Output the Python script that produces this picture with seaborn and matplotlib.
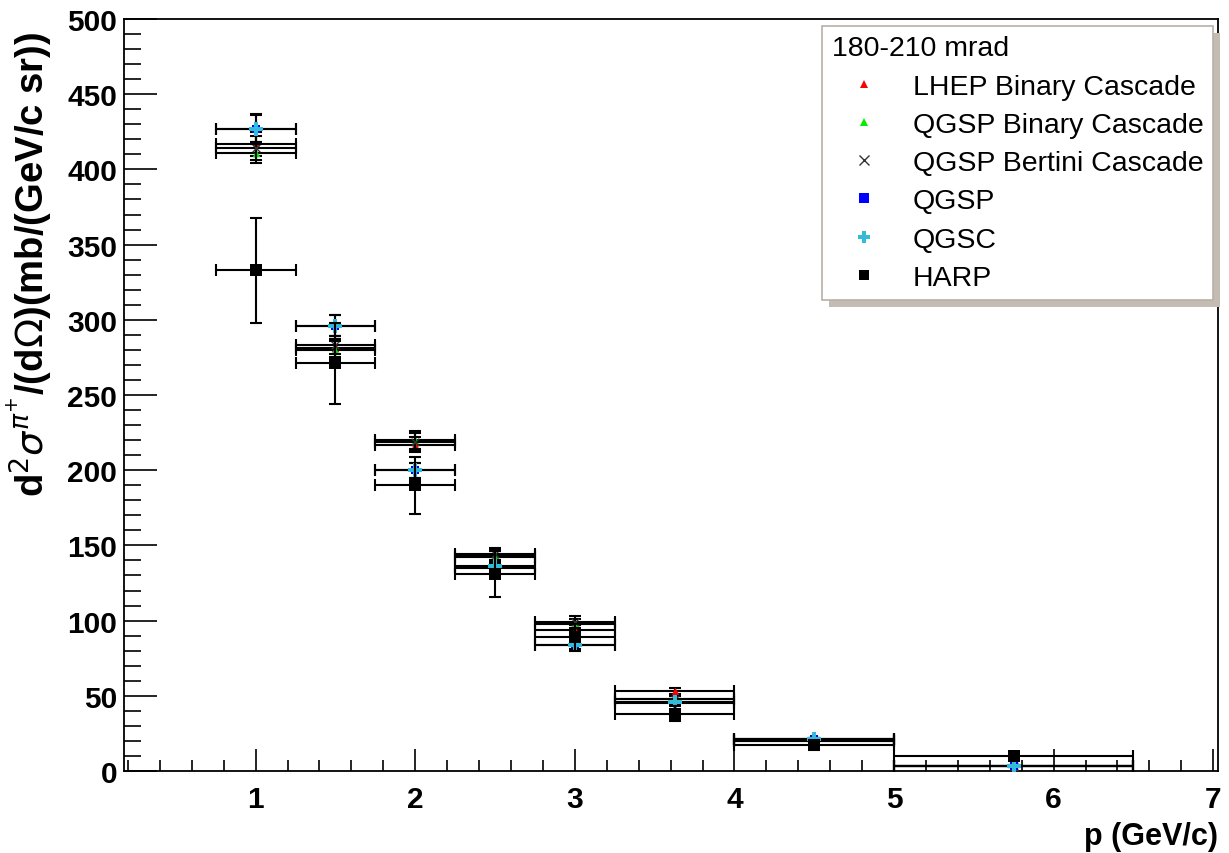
import numpy as np
import pandas as pd
import matplotlib
matplotlib.use('Agg')
import matplotlib.pyplot as plt
import seaborn as sns
from matplotlib.lines import Line2D
from matplotlib.patches import Rectangle
from matplotlib.ticker import MultipleLocator

# Bins in p (GeV/c)
p_center = [1.0, 1.5, 2.0, 2.5, 3.0, 3.625, 4.5, 5.75]
p_halfwidth = [0.25, 0.25, 0.25, 0.25, 0.25, 0.375, 0.5, 0.75]

# Cross sections per model (mb/(GeV/c sr))
lhep_bic = [417, 281, 217, 143, 94, 53, 21, 3.5]
lhep_bic_err = [8, 6, 5, 4, 3, 2, 1, 0.5]
qgsp_bic = [411, 280, 220, 142, 98, 48, 20, 3.5]
qgsp_bic_err = [7, 6, 6, 4, 3, 2, 1, 0.5]
qgsp_bert = [414, 283, 219, 144, 99, 48, 20, 3]
qgsp_bert_err = [8, 6, 6, 4, 4, 2, 1, 0.5]
qgsp = [427, 296, 200, 135, 84, 45, 21, 3]
qgsp_err = [9, 7, 5, 4, 3, 2, 1, 0.5]
qgsc = [427, 296, 200, 136, 84, 46, 21, 3]
qgsc_err = [10, 7, 5, 4, 3, 2, 1, 0.5]
harp = [333, 271, 190, 131, 89, 38, 17, 10]
harp_err = [35, 27, 19, 15, 9, 5, 3, 2]

models = ['LHEP Binary Cascade', 'QGSP Binary Cascade', 'QGSP Bertini Cascade',
          'QGSP', 'QGSC', 'HARP']
values = [lhep_bic, qgsp_bic, qgsp_bert, qgsp, qgsc, harp]
errors = [lhep_bic_err, qgsp_bic_err, qgsp_bert_err, qgsp_err, qgsc_err, harp_err]

style = {
    'LHEP Binary Cascade': dict(color='#ff0000', marker='^', s=30),
    'QGSP Binary Cascade': dict(color='#00ee00', marker='^', s=30),
    'QGSP Bertini Cascade': dict(color='#333333', marker='x', s=30),
    'QGSP': dict(color='#0000ff', marker='s', s=40),
    'QGSC': dict(color='#33bbd8', marker='P', s=110),
    'HARP': dict(color='#000000', marker='s', s=75),
}

rows = []
for m, v, e in zip(models, values, errors):
    for x, dx, y, dy in zip(p_center, p_halfwidth, v, e):
        rows.append(dict(model=m, p=x, dp=dx, sig=y, dsig=dy))
df = pd.DataFrame(rows)

sns.set_style('ticks')
plt.rcParams['font.family'] = ['Liberation Sans', 'DejaVu Sans']
plt.rcParams['text.color'] = 'black'
plt.rcParams['axes.labelcolor'] = 'black'
plt.rcParams['xtick.color'] = 'black'
plt.rcParams['ytick.color'] = 'black'
plt.rcParams['axes.edgecolor'] = 'black'

fig = plt.figure(figsize=(12.29, 8.54), dpi=100)
ax = fig.add_axes([124 / 1229, 1 - 772 / 854, (1218 - 124) / 1229, (772 - 20) / 854])

z = 3
for m in models:
    d = df[df['model'] == m]
    ax.errorbar(d['p'], d['sig'], xerr=d['dp'], yerr=d['dsig'], fmt='none', ecolor='black',
                elinewidth=1.5, capsize=4, capthick=1.5, zorder=z)
    st = style[m]
    sns.scatterplot(data=d, x='p', y='sig', ax=ax, color=st['color'],
                    marker=st['marker'], s=st['s'], linewidth=0 if st['marker'] != 'x' else 1,
                    edgecolor=st['color'], zorder=z + 1, legend=False)
    z += 2

ax.set_xlim(0.175, 7.03)
ax.set_ylim(0, 500)
ax.xaxis.set_major_locator(MultipleLocator(1))
ax.xaxis.set_minor_locator(MultipleLocator(0.2))
ax.yaxis.set_major_locator(MultipleLocator(50))
ax.yaxis.set_minor_locator(MultipleLocator(10))
ax.set_xticks([1, 2, 3, 4, 5, 6, 7])
ax.tick_params(axis='both', which='both', direction='in', top=False, right=False,
               width=1.2, labelsize=21.5, colors='black')
ax.tick_params(axis='x', which='major', length=16, pad=10)
ax.tick_params(axis='x', which='minor', length=8)
ax.tick_params(axis='y', which='major', length=24, pad=5)
ax.tick_params(axis='y', which='minor', length=12)
for lab in ax.get_xticklabels() + ax.get_yticklabels():
    lab.set_fontweight('bold')
for sp in ax.spines.values():
    sp.set_linewidth(1.3)
    sp.set_visible(True)

ax.set_xlabel('p (GeV/c)', loc='right', fontsize=22, fontweight='bold', labelpad=6)
ax.set_ylabel(r'd$^{2}\sigma^{\pi^{+}}$/(d$\Omega$)(mb/(GeV/c sr))', loc='top',
              fontsize=27.5, fontweight='bold', labelpad=4)
ax.yaxis.set_label_coords(-0.063, 0.985)

handles = []
for m in models:
    st = style[m]
    ms = {'^': 6, 'x': 7, 's': 7, 'P': 8}[st['marker']]
    handles.append(Line2D([], [], linestyle='none', marker=st['marker'], color=st['color'],
                          markersize=ms, markeredgewidth=1 if st['marker'] == 'x' else 0))
leg = ax.legend(handles, models, title='180-210 mrad', loc='upper right',
                bbox_to_anchor=(1213 / 1229, 1 - 27 / 854), bbox_transform=fig.transFigure,
                fontsize=20.5, title_fontsize=20.5, alignment='left', fancybox=False,
                frameon=True, edgecolor='#b8b0a8', framealpha=1, handlelength=2.3,
                handletextpad=0.55, labelspacing=0.43, borderpad=0.33, borderaxespad=0)
leg.get_frame().set_linewidth(1.2)
leg.set_zorder(20)

fig.canvas.draw()
bb = leg.get_window_extent().transformed(fig.transFigure.inverted())
ox, oy = 7 / 1229, 7 / 854
ax.add_patch(Rectangle((bb.x0 + ox, bb.y0 - oy), bb.width, bb.height,
                       transform=fig.transFigure, facecolor='#c4bcb2', edgecolor='none',
                       zorder=19, clip_on=False))

fig.savefig('out.png', dpi=100)
